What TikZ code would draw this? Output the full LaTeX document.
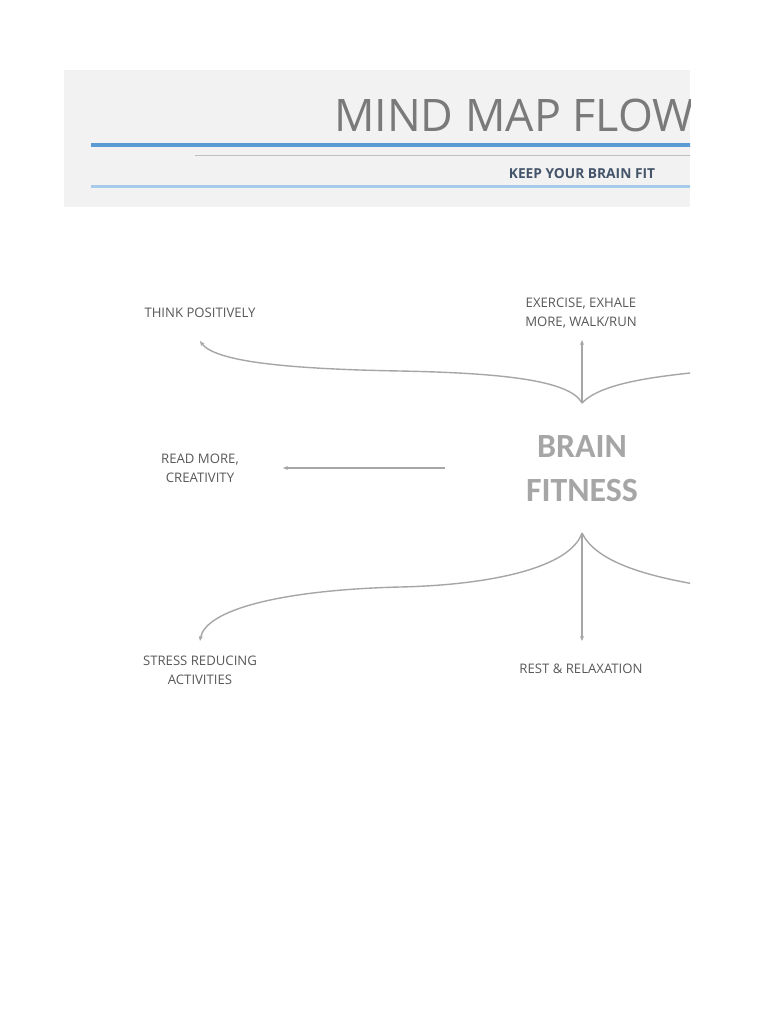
\documentclass[tikz,border=0pt]{standalone}
\usepackage{fontspec}
\setmainfont{Open Sans}
\newfontfamily\hubfont{Carlito}
\usetikzlibrary{arrows.meta}
\definecolor{band}{HTML}{F2F2F2}
\definecolor{titlegray}{HTML}{7A7A7A}
\definecolor{blueA}{HTML}{5B9BD5}
\definecolor{blueB}{HTML}{A9CBEA}
\definecolor{rulegray}{HTML}{BFBFBF}
\definecolor{subcol}{HTML}{44546A}
\definecolor{labelgray}{HTML}{595959}
\definecolor{linkgray}{HTML}{A6A6A6}
\tikzset{
  lbl/.style={text=labelgray, font=\fontsize{13.2}{19}\selectfont, align=center, inner sep=0pt},
  hub/.style={text=linkgray, font=\hubfont\fontsize{34}{44}\selectfont\bfseries, align=center, inner sep=0pt},
  link/.style={draw=linkgray, line width=1.4bp},
  arr/.style={link, -{Stealth[length=5bp,width=4bp]}}
}
\begin{document}
\begin{tikzpicture}[x=1bp,y=-1bp]
\useasboundingbox (0,0) rectangle (768,1024);
\fill[white] (0,0) rectangle (768,1024);
\begin{scope}
\clip (0,0) rectangle (690,1024);
% header band
\fill[band] (64,70) rectangle (690,207);
\node[anchor=base west, inner sep=0pt, text=titlegray, font=\fontsize{45}{45}\selectfont] (title) at (334,131) {MIND MAP FLOWCHART};
\draw[blueA, line width=4bp] (91,145) -- (700,145);
\draw[rulegray, line width=1bp] (195,155) -- (700,155);
\node[anchor=base, inner sep=0pt, text=subcol, font=\fontsize{13.8}{14}\selectfont\bfseries] (sub) at (582,178) {KEEP YOUR BRAIN FIT};
\draw[blueB, line width=3bp] (91,186) -- (700,186);

% nodes
\node[lbl] (think) at (200,313) {THINK POSITIVELY};
\node[lbl] (exer) at (581,313.5) {EXERCISE, EXHALE\\MORE, WALK/RUN};
\node[lbl] (read) at (200,468) {READ MORE,\\CREATIVITY};
\node[hub] (brain) at (582,469) {BRAIN\\FITNESS};
\node[lbl] (stress) at (200,670) {STRESS REDUCING\\ACTIVITIES};
\node[lbl] (rest) at (581,669) {REST \& RELAXATION};

\coordinate (jtop) at (582,403);
\coordinate (jbot) at (582,533);
\coordinate (ttip) at (200,341);
\coordinate (etip) at (582,340);
\coordinate (rstart) at (445,468);
\coordinate (rtip) at (283,468);
\coordinate (stip) at (200,641);
\coordinate (xtip) at (582,641);
\coordinate (tr) at (700,372);
\coordinate (br) at (700,585);

% connectors
\draw[arr] (jtop) .. controls (570,380) and (500,373) .. (400,371) .. controls (290,369) and (215,362) .. (ttip);
\draw[arr] (jtop) -- (etip);
\draw[link] (jtop) .. controls (600,384) and (650,377) .. (tr);
\draw[arr] (rstart) -- (rtip);
\draw[arr] (jbot) .. controls (570,568) and (490,585) .. (400,587) .. controls (280,590) and (205,610) .. (stip);
\draw[arr] (jbot) -- (xtip);
\draw[link] (jbot) .. controls (595,560) and (640,575) .. (br);
\end{scope}
\end{tikzpicture}
\end{document}
